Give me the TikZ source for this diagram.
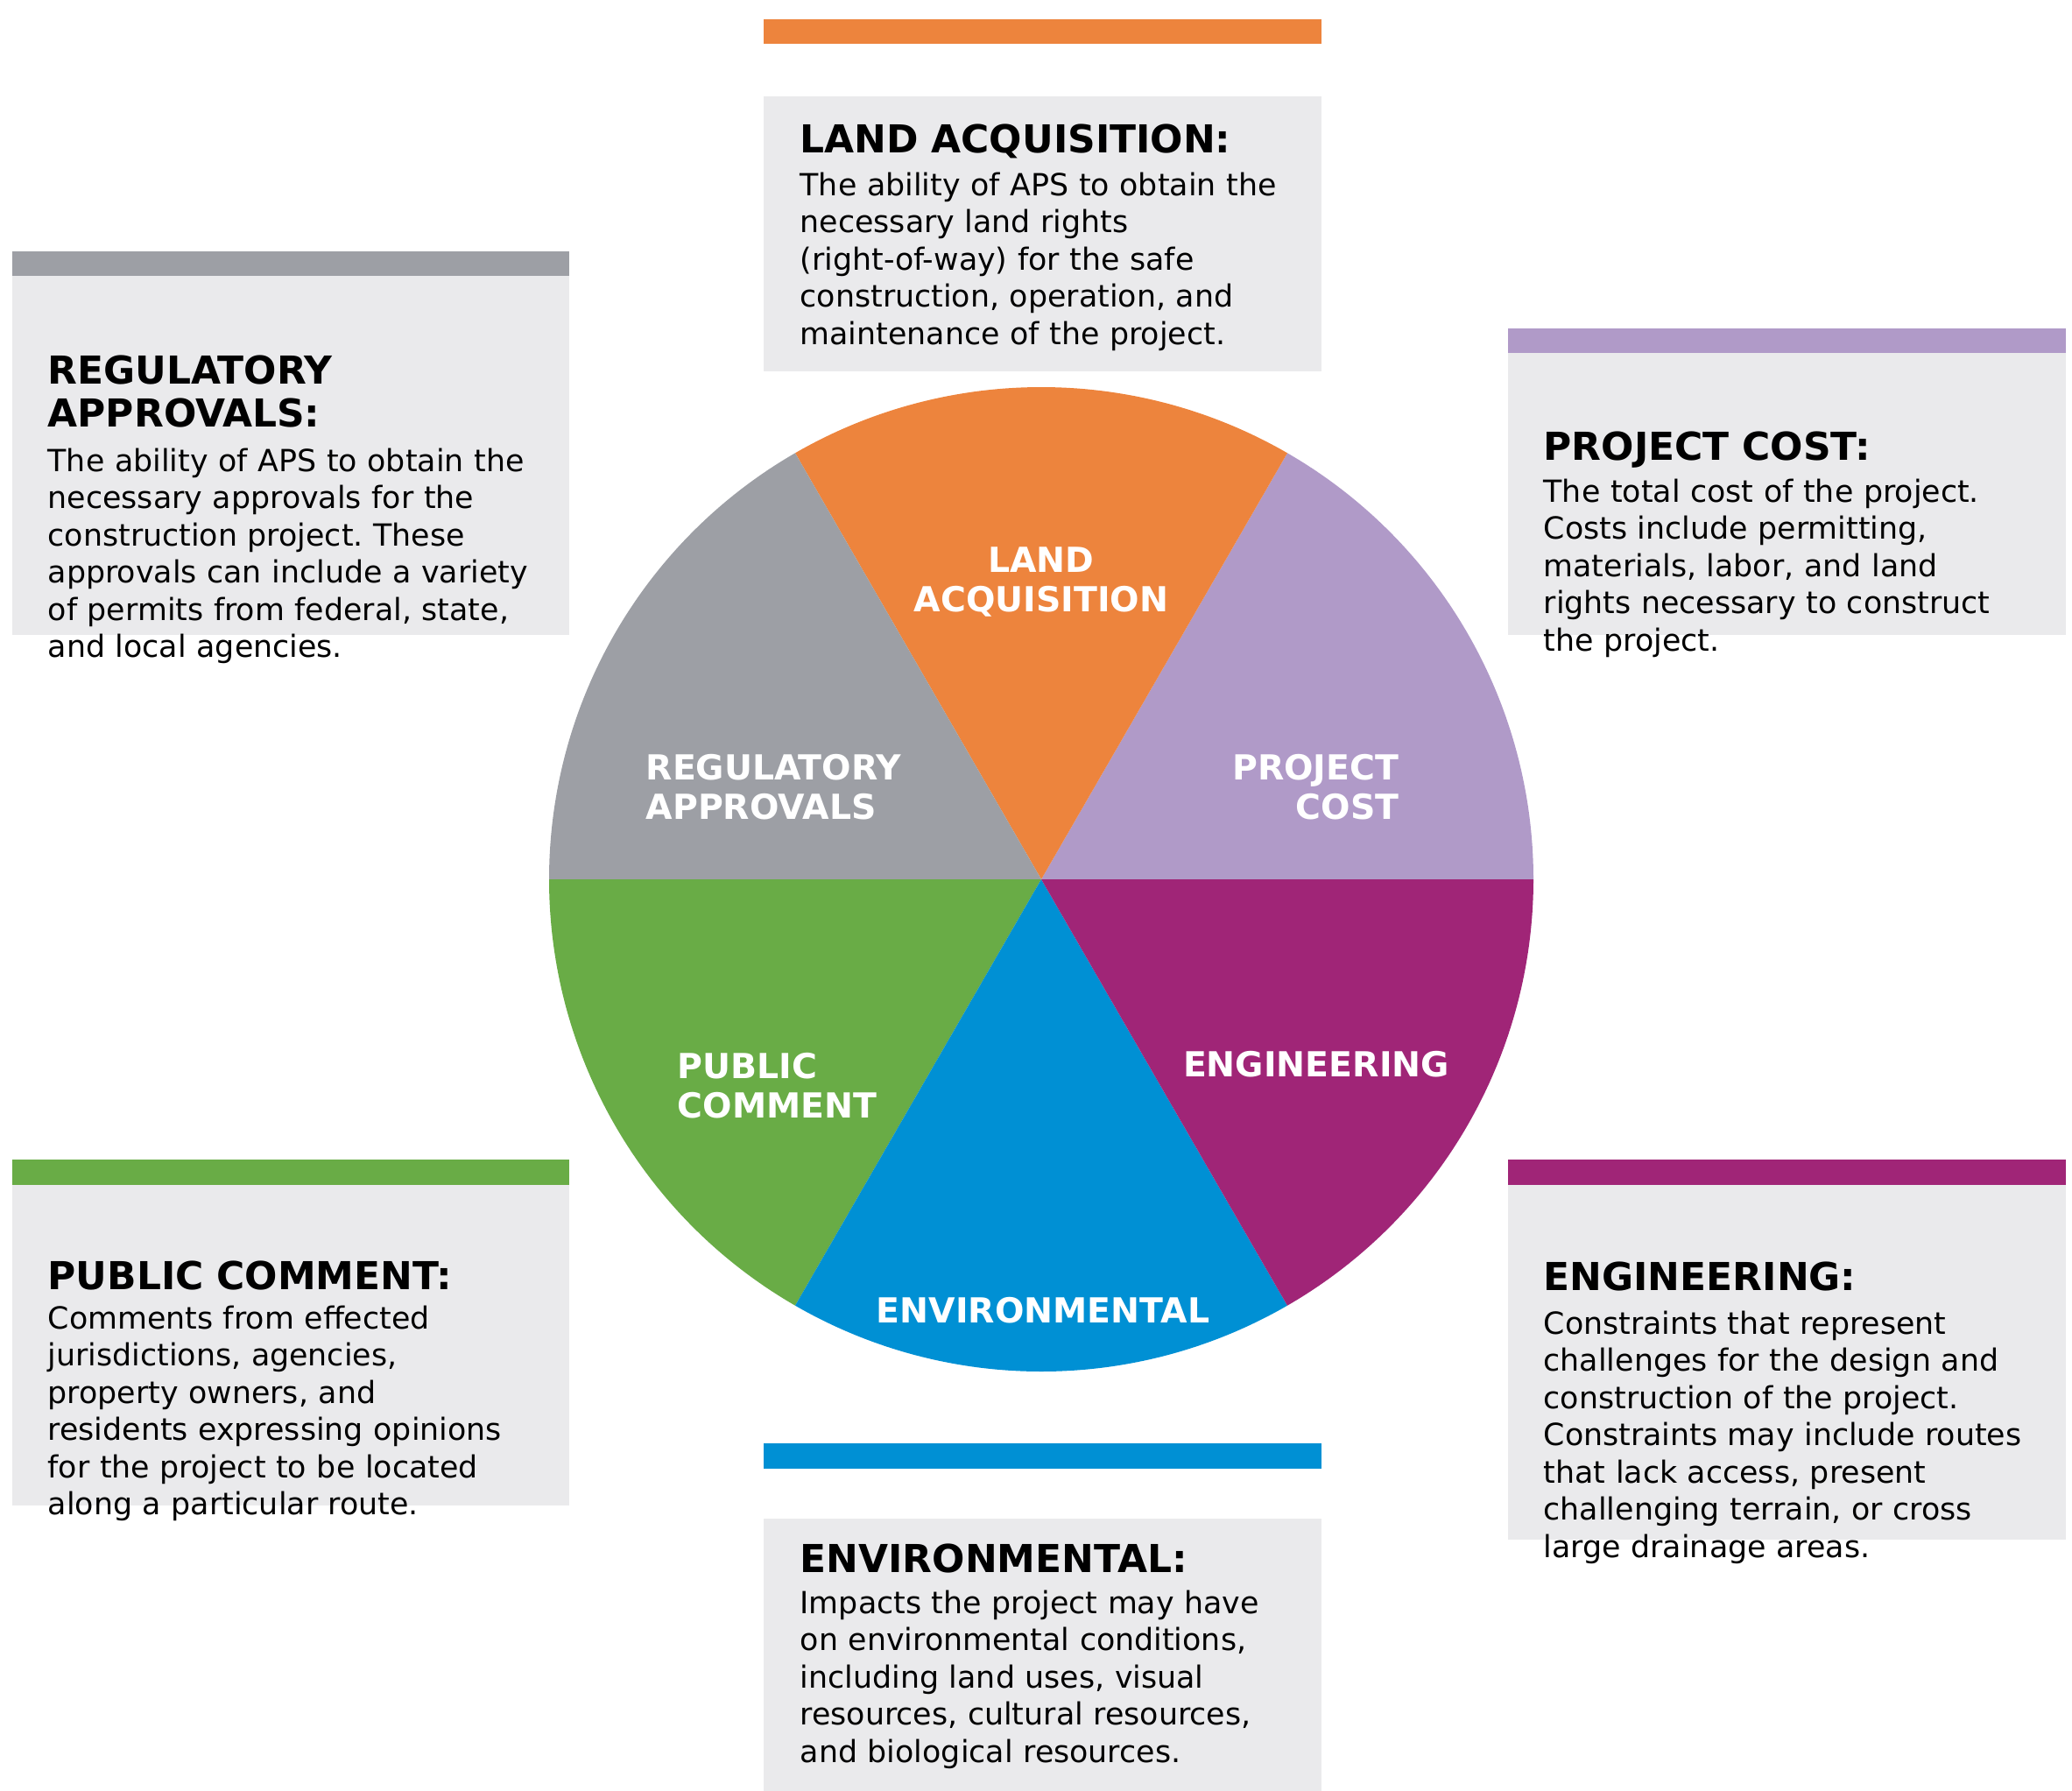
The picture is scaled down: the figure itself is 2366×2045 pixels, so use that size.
\documentclass[tikz,border=0pt]{standalone}
\usepackage{fontspec}
\setmainfont{DejaVu Sans}
\frenchspacing
\definecolor{landorange}{RGB}{237,132,61}
\definecolor{reggrey}{RGB}{157,159,165}
\definecolor{costlilac}{RGB}{176,154,200}
\definecolor{engpurple}{RGB}{160,37,119}
\definecolor{envblue}{RGB}{0,144,212}
\definecolor{pubgreen}{RGB}{105,172,70}
\definecolor{boxgrey}{RGB}{234,234,236}
\begin{document}
\begin{tikzpicture}[x=0.01cm, y=-0.01cm,
  heading/.style={anchor=base west, inner sep=0, align=left, text width=6cm,
    font=\fontsize{12.5}{14.2}\selectfont\bfseries},
  blurb/.style={anchor=base west, inner sep=0, align=left, text width=6cm,
    font=\fontsize{9.9}{12.1}\selectfont},
  piefont/.style={text=white, inner sep=0, font=\fontsize{11.2}{12.8}\selectfont\bfseries}]
\useasboundingbox (0,0) rectangle (2366,2045);
\fill[landorange] (872,22) rectangle (1509,50);
\fill[boxgrey] (872,110) rectangle (1509,424);
\fill[reggrey] (14,287) rectangle (650,315);
\fill[boxgrey] (14,315) rectangle (650,725);
\fill[costlilac] (1722,375) rectangle (2359,403);
\fill[boxgrey] (1722,403) rectangle (2359,725);
\fill[pubgreen] (14,1324) rectangle (650,1353);
\fill[boxgrey] (14,1353) rectangle (650,1719);
\fill[engpurple] (1722,1324) rectangle (2359,1353);
\fill[boxgrey] (1722,1353) rectangle (2359,1758);
\fill[envblue] (872,1648) rectangle (1509,1677);
\fill[boxgrey] (872,1734) rectangle (1509,2045);
\coordinate (pie) at (1189,1004);
\fill[costlilac] (pie) -- ++(0:562) arc[start angle=0, end angle=-60, radius=562] -- cycle;
\fill[landorange] (pie) -- ++(-60:562) arc[start angle=-60, end angle=-120, radius=562] -- cycle;
\fill[reggrey] (pie) -- ++(-120:562) arc[start angle=-120, end angle=-180, radius=562] -- cycle;
\fill[pubgreen] (pie) -- ++(-180:562) arc[start angle=-180, end angle=-240, radius=562] -- cycle;
\fill[envblue] (pie) -- ++(-240:562) arc[start angle=-240, end angle=-300, radius=562] -- cycle;
\fill[engpurple] (pie) -- ++(-300:562) arc[start angle=-300, end angle=-360, radius=562] -- cycle;
\node[piefont, align=center] (la-slice) at (1189,665) {LAND\\ACQUISITION};
\node[piefont, anchor=west, align=left] (ra-slice) at (737,899) {REGULATORY\\APPROVALS};
\node[piefont, anchor=east, align=right] (pc-slice) at (1598,899) {PROJECT\\COST};
\node[piefont, anchor=west, align=left] (pub-slice) at (773,1240) {PUBLIC\\COMMENT};
\node[piefont] (eng-slice) at (1503,1215) {ENGINEERING};
\node[piefont] (env-slice) at (1191,1496) {ENVIRONMENTAL};
\node[heading] (la-title) at (913,174) {LAND ACQUISITION:};
\node[blurb] (la-text) at (913,223) {The ability of APS to obtain the\\necessary land rights\\(right-of-way) for the safe\\construction, operation, and\\maintenance of the project.};
\node[heading] (ra-title) at (54,438) {REGULATORY\\APPROVALS:};
\node[blurb] (ra-text) at (54,538) {The ability of APS to obtain the\\necessary approvals for the\\construction project. These\\approvals can include a variety\\of permits from federal, state,\\and local agencies.};
\node[heading] (pc-title) at (1762,525) {PROJECT COST:};
\node[blurb] (pc-text) at (1762,573) {The total cost of the project.\\Costs include permitting,\\materials, labor, and land\\rights necessary to construct\\the project.};
\node[heading] (pub-title) at (54,1472) {PUBLIC COMMENT:};
\node[blurb] (pub-text) at (54,1517) {Comments from effected\\jurisdictions, agencies,\\property owners, and\\residents expressing opinions\\for the project to be located\\along a particular route.};
\node[heading] (eng-title) at (1762,1473) {ENGINEERING:};
\node[blurb] (eng-text) at (1762,1523) {Constraints that represent\\challenges for the design and\\construction of the project.\\Constraints may include routes\\that lack access, present\\challenging terrain, or cross\\large drainage areas.};
\node[heading] (env-title) at (913,1795) {ENVIRONMENTAL:};
\node[blurb] (env-text) at (913,1842) {Impacts the project may have\\on environmental conditions,\\including land uses, visual\\resources, cultural resources,\\and biological resources.};
\end{tikzpicture}
\end{document}
